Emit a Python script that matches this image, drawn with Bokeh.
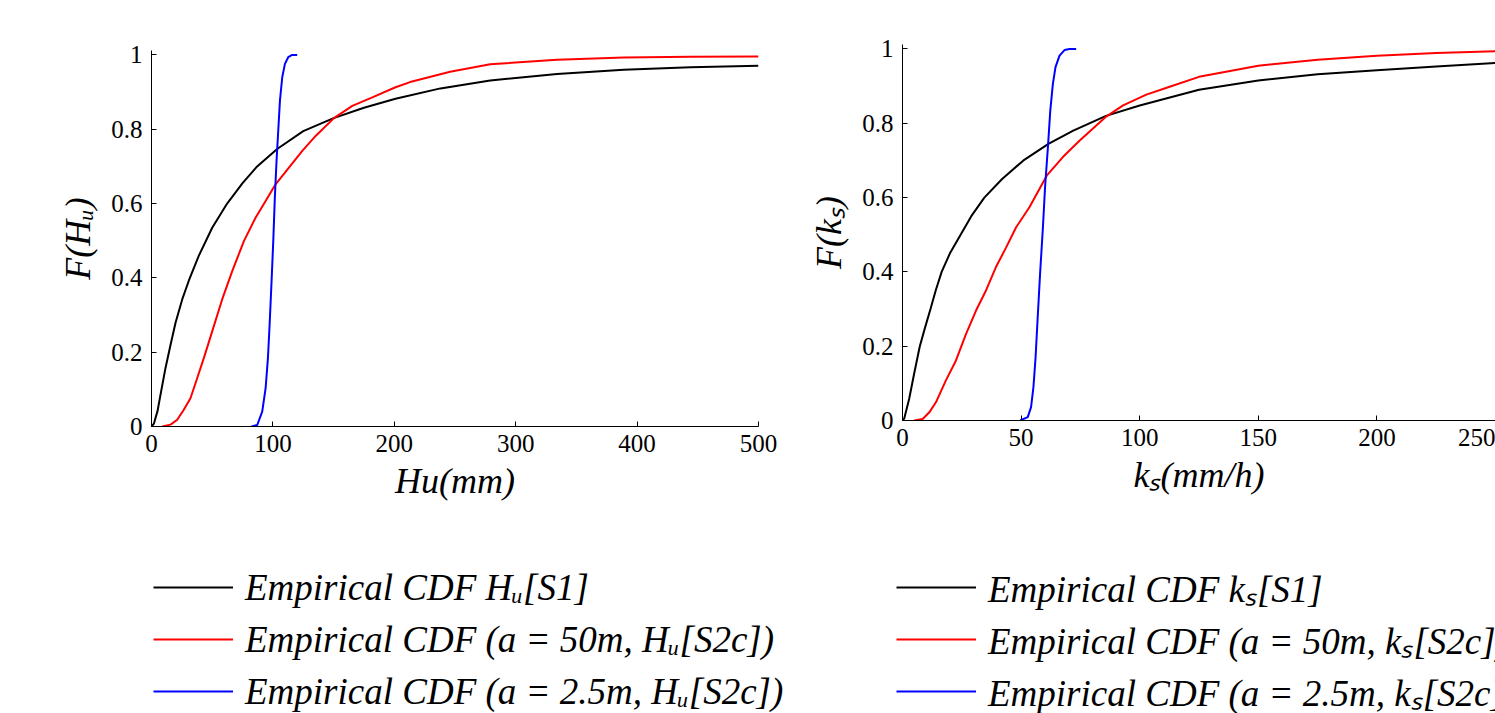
from bokeh.plotting import figure
from bokeh.models import Legend, LegendItem, FixedTicker, Range1d
from bokeh.layouts import row, column
from bokeh.embed import file_html
from bokeh.resources import INLINE

# ---------------- data ----------------
# Left panel: Hu (mm)
hu_s1_x = [0, 2, 5, 7.4, 11.5, 15.7, 19.8, 25.3, 30.8, 39, 50, 62.3, 75, 87, 103.5, 125,
           150, 175, 201, 238, 279, 334, 389, 444, 500]
hu_s1_F = [0, 0.008, 0.042, 0.085, 0.157, 0.22, 0.279, 0.342, 0.393, 0.46, 0.535, 0.6,
           0.655, 0.7, 0.747, 0.795, 0.83, 0.858, 0.882, 0.91, 0.931, 0.949, 0.96, 0.967,
           0.971]

hu_s2c50_x = [8.8, 15.7, 21.2, 26.6, 32.1, 37.6, 43.1, 50, 58.2, 66.5, 76.1, 85.7, 94,
              102.2, 113.2, 124.2, 135.2, 150.3, 165.4, 181.9, 201, 213, 246, 279, 334,
              389, 444, 500]
hu_s2c50_F = [0, 0.005, 0.018, 0.045, 0.076, 0.13, 0.184, 0.256, 0.342, 0.418, 0.499,
              0.562, 0.607, 0.652, 0.697, 0.742, 0.782, 0.83, 0.863, 0.886, 0.913, 0.927,
              0.955, 0.975, 0.987, 0.993, 0.995, 0.996]

hu_s2c25_x = [82.4, 87.1, 91.2, 94, 95.9, 97.3, 98.9, 100.3, 101.6, 103, 104.4, 105.8,
              107.7, 109.9, 112.6, 115.9, 120]
hu_s2c25_F = [0, 0.004, 0.04, 0.103, 0.184, 0.274, 0.391, 0.499, 0.616, 0.715, 0.796,
              0.877, 0.94, 0.976, 0.994, 1.0, 1.0]

# Right panel: ks (mm/h)
ks_s1_x = [0, 0.7, 2.8, 4.9, 7.3, 9.5, 11.8, 14, 16.5, 20, 24.5, 29, 34.5, 42, 51, 61.7,
           72, 85.8, 100, 125, 150, 175, 200, 225, 250]
ks_s1_F = [0, 0.005, 0.058, 0.126, 0.2, 0.25, 0.3, 0.35, 0.4, 0.45, 0.5, 0.55, 0.6, 0.65,
           0.7, 0.745, 0.78, 0.82, 0.848, 0.89, 0.915, 0.932, 0.943, 0.953, 0.962]

ks_s2c50_x = [4.9, 8.5, 11.3, 14.1, 18.3, 22.5, 26.8, 31, 35.2, 39.4, 43.7, 47.9, 53.5,
              60.8, 67.6, 74.6, 81.7, 85.9, 93, 102.8, 112, 125, 150, 175, 200, 225, 250]
ks_s2c50_F = [0, 0.004, 0.022, 0.049, 0.108, 0.161, 0.233, 0.296, 0.35, 0.413, 0.466,
              0.52, 0.574, 0.659, 0.709, 0.753, 0.794, 0.818, 0.848, 0.877, 0.897, 0.925,
              0.955, 0.971, 0.982, 0.989, 0.994]

ks_s2c25_x = [49.6, 52.8, 54.2, 55.2, 56.1, 57, 58, 59.2, 60.1, 61.3, 62.3, 63.4, 64.5,
              66.2, 68.3, 70.4, 73.2]
ks_s2c25_F = [0, 0.009, 0.036, 0.09, 0.17, 0.278, 0.395, 0.52, 0.628, 0.735, 0.834,
              0.906, 0.951, 0.982, 0.997, 1.0, 1.0]

# ticks & labels
hu_ticks = [0, 100, 200, 300, 400, 500]
ks_ticks = [0, 50, 100, 150, 200, 250]
y_ticks = [0, 0.2, 0.4, 0.6, 0.8, 1]
y_tick_labels = ["0", "0.2", "0.4", "0.6", "0.8", "1"]

hu_labels = ["Empirical CDF H\u1d64[S1]",
             "Empirical CDF (a = 50m, H\u1d64[S2c])",
             "Empirical CDF (a = 2.5m, H\u1d64[S2c])"]
ks_labels = ["Empirical CDF k\u209b[S1]",
             "Empirical CDF (a = 50m, k\u209b[S2c])",
             "Empirical CDF (a = 2.5m, k\u209b[S2c])"]

colors = ["black", "red", "blue"]
SERIF = "Liberation Serif"


def make_panel(series, xmax, xticks, xlabel, ylabel, width,
               border_left, border_right, border_top, border_bottom):
    p = figure(width=width, height=520,
               x_range=Range1d(0, xmax), y_range=Range1d(0, 1.012),
               output_backend="svg", toolbar_location=None,
               min_border_left=border_left, min_border_right=border_right,
               min_border_top=border_top, min_border_bottom=border_bottom)
    p.grid.visible = False
    p.outline_line_color = None

    for (xs, ys), c in zip(series, colors):
        p.line(xs, ys, line_color=c, line_width=2)

    for ax in (p.xaxis[0], p.yaxis[0]):
        ax.axis_line_color = "black"
        ax.axis_line_width = 1
        ax.major_tick_in = 5
        ax.major_tick_out = 0
        ax.minor_tick_line_color = None
        ax.major_tick_line_color = "black"
        ax.major_label_text_font = SERIF
        ax.major_label_text_font_size = "25px"
        ax.major_label_text_color = "black"
        ax.axis_label_text_font = SERIF
        ax.axis_label_text_font_style = "italic"
        ax.axis_label_text_font_size = "36px"
        ax.axis_label_text_color = "black"

    p.xaxis.ticker = FixedTicker(ticks=xticks)
    p.xaxis.major_label_standoff = 8
    p.xaxis.axis_label = xlabel
    p.xaxis.axis_label_standoff = 6

    p.yaxis.ticker = FixedTicker(ticks=y_ticks)
    p.yaxis.major_label_overrides = {t: l for t, l in zip(y_ticks, y_tick_labels)}
    p.yaxis.major_label_standoff = 9
    p.yaxis.axis_label = ylabel
    p.yaxis.axis_label_standoff = 10
    return p


def make_legend(series, labels, width, lx, ly):
    q = figure(width=width, height=193, x_range=Range1d(0, 1), y_range=Range1d(0, 1),
               output_backend="svg", toolbar_location=None,
               x_axis_location=None, y_axis_location=None,
               min_border_left=0, min_border_right=0, min_border_top=0, min_border_bottom=0)
    q.grid.visible = False
    q.outline_line_color = None
    rs = []
    for (xs, ys), c in zip(series, colors):
        rs.append(q.line(xs, ys, line_color=c, line_width=2, visible=False))
    legend = Legend(
        items=[LegendItem(label=l, renderers=[r]) for l, r in zip(labels, rs)],
        location=(lx, ly),
        orientation="vertical",
        label_text_font=SERIF,
        label_text_font_style="italic",
        label_text_font_size="37px",
        label_text_color="black",
        label_height=52,
        glyph_height=52,
        glyph_width=80,
        label_standoff=12,
        spacing=0,
        padding=2,
        margin=0,
        border_line_color=None,
        background_fill_alpha=0,
    )
    q.add_layout(legend, "center")
    return q


hu_series = [(hu_s1_x, hu_s1_F), (hu_s2c50_x, hu_s2c50_F), (hu_s2c25_x, hu_s2c25_F)]
ks_series = [(ks_s1_x, ks_s1_F), (ks_s2c50_x, ks_s2c50_F), (ks_s2c25_x, ks_s2c25_F)]

p1 = make_panel(hu_series, 500, hu_ticks, "Hu(mm)", "F(H\u1d64)", 790, 151, 32, 50, 94)
p2 = make_panel(ks_series, 250, ks_ticks, "k\u209b(mm/h)", "F(k\u209b)", 705, 112, 0, 44, 100)

l1 = make_legend(hu_series, hu_labels, 790, 153, -4)
l2 = make_legend(ks_series, ks_labels, 705, 106, -4)

layout = row(column(p1, row(l1)), column(p2, row(l2)))
open("out.html", "w").write(file_html(layout, INLINE))
